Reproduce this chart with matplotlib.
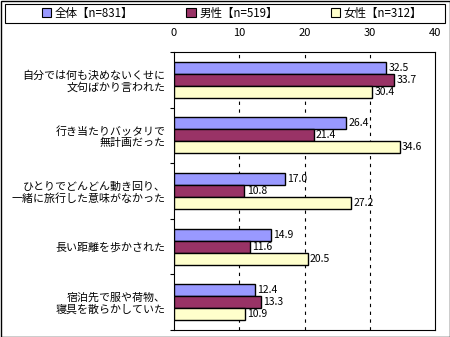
import numpy as np
import matplotlib.pyplot as plt
from matplotlib.patches import Patch, Rectangle

plt.rcParams['font.family'] = ['Noto Sans CJK JP', 'DejaVu Sans']

categories = ['自分では何も決めないくせに\n文句ばかり言われた',
              '行き当たりバッタリで\n無計画だった',
              'ひとりでどんどん動き回り、\n一緒に旅行した意味がなかった',
              '長い距離を歩かされた',
              '宿泊先で服や荷物、\n寝具を散らかしていた']
series_names = ['全体【n=831】', '男性【n=519】', '女性【n=312】']
total = [32.5, 26.4, 17.0, 14.9, 12.4]
male = [33.7, 21.4, 10.8, 11.6, 13.3]
female = [30.4, 34.6, 27.2, 20.5, 10.9]
colors = ['#9999FF', '#993366', '#FFFFCC']

fig = plt.figure(figsize=(4.5, 3.37), dpi=100)
ax = fig.add_axes([174/450, 1-330/337, 261/450, 278/337])

y = np.arange(len(categories))
h = 0.215
for i, (vals, c) in enumerate(zip([total, male, female], colors)):
    pos = y + (i - 1) * h
    ax.barh(pos, vals, height=h, color=c, edgecolor='black', linewidth=1.0, zorder=3)
    for p, v in zip(pos, vals):
        ax.text(v + 0.35, p, '%.1f' % v, va='center', ha='left', fontsize=7.5, zorder=4)

ax.set_xlim(0, 40)
ax.set_ylim(len(categories) - 0.5, -0.5)
ax.xaxis.tick_top()
ax.set_xticks([0, 10, 20, 30, 40])
ax.tick_params(axis='x', length=0, pad=10, labelsize=8)
ax.set_yticks(y)
ax.set_yticklabels(categories, fontsize=7.9, ha='right', linespacing=1.15)
ax.tick_params(axis='y', length=0, pad=6)
ax.set_yticks(np.arange(len(categories) + 1) - 0.5, minor=True)
ax.tick_params(axis='y', which='minor', length=3, width=0.8)
for gx in [10, 20, 30]:
    ax.axvline(gx, color='black', linestyle=(0, (3, 4)), linewidth=0.8, zorder=1)
for s in ax.spines.values():
    s.set_linewidth(0.8)

handles = [Patch(facecolor=c, edgecolor='black', linewidth=0.8) for c in colors]
leg = fig.legend(handles, series_names, loc='center', ncol=3,
                 bbox_to_anchor=(0.5 + 7/450, 1 - 13/337), frameon=False, fontsize=8.3,
                 handlelength=0.8, handleheight=0.8, handletextpad=0.3,
                 columnspacing=4.6)
fig.patches.append(Rectangle((5/450, 1-23/337), 440/450, 19/337, transform=fig.transFigure,
                             fill=False, edgecolor='black', linewidth=0.8))
fig.patches.append(Rectangle((0.5/450, 0.5/337), 449/450, 336/337, transform=fig.transFigure,
                             fill=False, edgecolor='black', linewidth=1.0))

fig.savefig('out.png', dpi=100)
